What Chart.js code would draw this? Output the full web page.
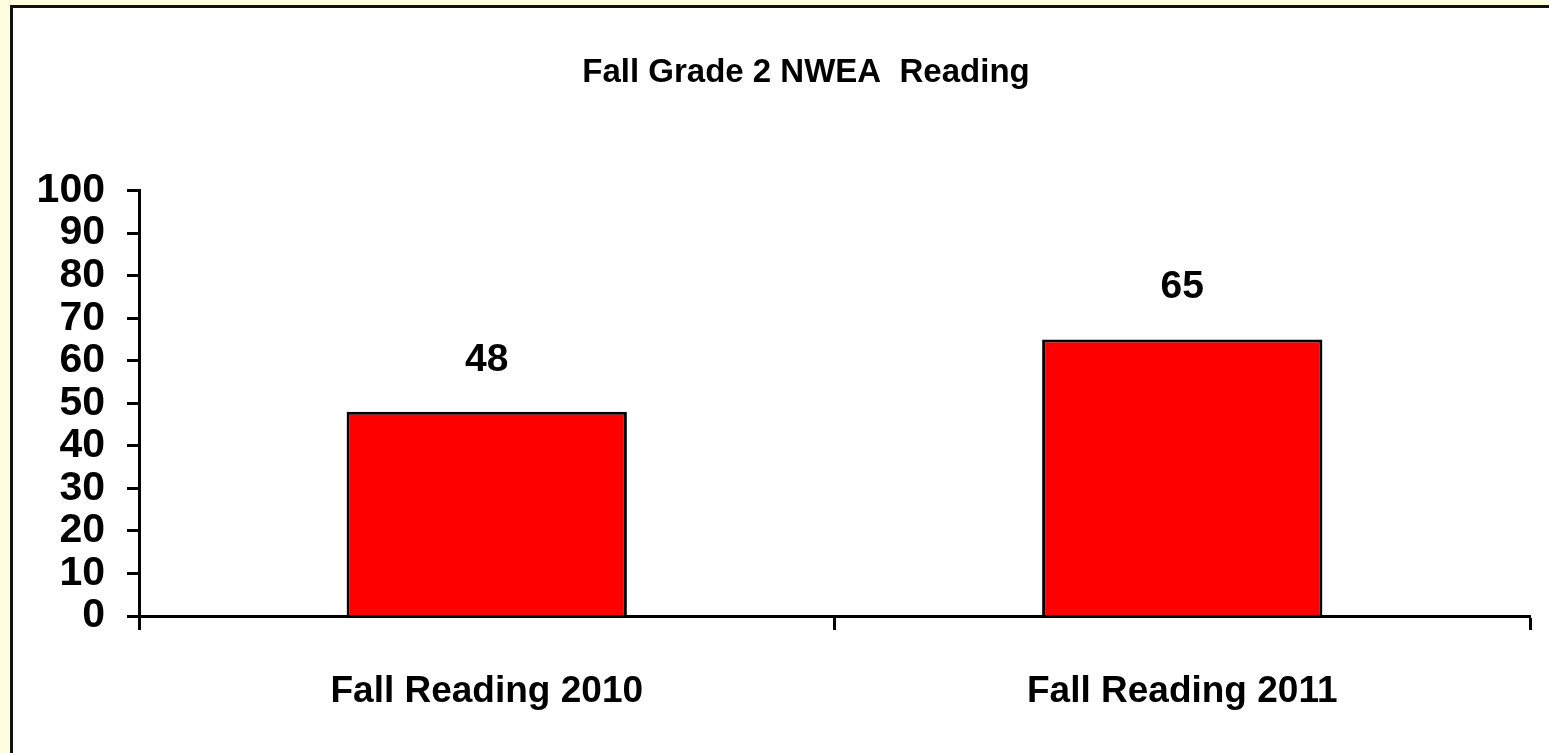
<!DOCTYPE html>
<html>
<head>
<meta charset="utf-8">
<title>Fall Grade 2 NWEA Reading</title>
<script src="https://cdn.jsdelivr.net/npm/chart.js@4.4.0/dist/chart.umd.min.js"></script>
<style>
    html, body {
        margin: 0;
        padding: 0;
        width: 1549px;
        height: 753px;
        overflow: hidden;
        background: #FFFFDF;
    }
    .panel {
        position: absolute;
        left: 10px;
        top: 5px;
        width: 1600px;
        height: 800px;
        border: 3px solid #111;
        background: #ffffff;
    }
    .wrap {
        position: absolute;
        left: 0;
        top: 0;
        width: 1549px;
        height: 753px;
    }
</style>
</head>
<body>
<div class="panel"></div>
<div class="wrap"><canvas id="chart" width="1549" height="753"></canvas></div>
<script>
const categories = ['Fall Reading 2010', 'Fall Reading 2011'];
const percentValues = [48, 65];
const yTicks = [0, 10, 20, 30, 40, 50, 60, 70, 80, 90, 100];

const FONT = "'Liberation Sans', Arial, sans-serif";

// value labels above each bar
const barLabels = {
    id: 'barLabels',
    afterDatasetsDraw(chart) {
        const ctx = chart.ctx;
        const meta = chart.getDatasetMeta(0);
        ctx.save();
        ctx.font = 'bold 39px ' + FONT;
        ctx.fillStyle = '#000';
        ctx.textAlign = 'center';
        ctx.textBaseline = 'middle';
        meta.data.forEach((bar, i) => {
            ctx.fillText(String(percentValues[i]), bar.x, bar.y - 52);
        });
        ctx.restore();
    }
};

// the original title sits a bit right of the canvas centre
const titleShift = {
    id: 'titleShift',
    afterLayout(chart) {
        if (chart.titleBlock) {
            chart.titleBlock.left = 82;
        }
    }
};

const ctx = document.getElementById('chart').getContext('2d');
new Chart(ctx, {
    type: 'bar',
    data: {
        labels: categories,
        datasets: [{
            data: percentValues,
            backgroundColor: '#FF0000',
            borderColor: '#000000',
            borderWidth: 3,
            barPercentage: 0.403,
            categoryPercentage: 1.0
        }]
    },
    options: {
        responsive: false,
        animation: false,
        devicePixelRatio: 1,
        layout: {
            padding: { left: 0, right: 19, top: 0, bottom: 0 }
        },
        plugins: {
            legend: { display: false },
            tooltip: { enabled: false },
            title: {
                display: true,
                text: 'Fall Grade 2 NWEA  Reading',
                color: '#000',
                font: { family: FONT, size: 33, weight: 'bold', lineHeight: 1.2 },
                padding: { top: 53, bottom: 98 }
            }
        },
        scales: {
            x: {
                afterFit(scale) { scale.height = 137; },
                grid: {
                    display: true,
                    offset: true,
                    drawOnChartArea: false,
                    drawTicks: true,
                    tickLength: 14,
                    tickWidth: 3,
                    tickColor: '#000'
                },
                border: { display: true, color: '#000', width: 3 },
                ticks: {
                    color: '#000',
                    padding: 40,
                    maxRotation: 0,
                    font: { family: FONT, size: 37, weight: 'bold' }
                }
            },
            y: {
                min: 0,
                max: 100,
                afterFit(scale) { scale.width = 139; },
                afterBuildTicks(scale) {
                    scale.ticks = yTicks.map(v => ({ value: v }));
                },
                grid: {
                    display: true,
                    drawOnChartArea: false,
                    drawTicks: true,
                    tickLength: 12,
                    tickWidth: 3,
                    tickColor: '#000'
                },
                border: { display: true, color: '#000', width: 3 },
                ticks: {
                    color: '#000',
                    padding: 22,
                    autoSkip: false,
                    font: { family: FONT, size: 41, weight: 'bold', lineHeight: 1 }
                }
            }
        }
    },
    plugins: [barLabels, titleShift]
});
</script>
</body>
</html>
